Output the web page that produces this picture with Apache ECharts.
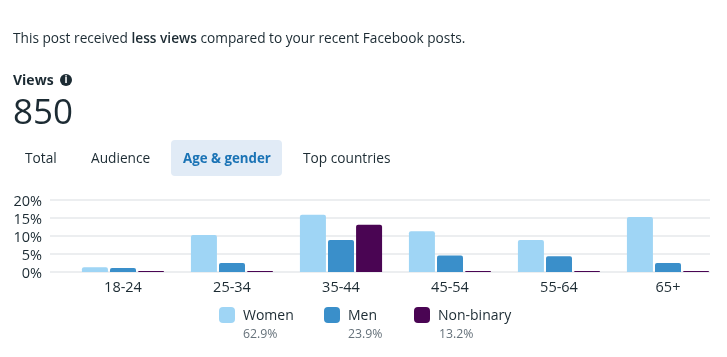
<!DOCTYPE html>
<html>
<head>
<meta charset="utf-8">
<style>
html, body { margin: 0; padding: 0; background: #fff; }
#main-canvas { width: 727px; height: 357px; }
</style>
<script src="https://cdn.jsdelivr.net/npm/echarts@6/dist/echarts.min.js"></script>
</head>
<body>
<div id="main-canvas"></div>
<script>
var ageGroups = ['18-24', '25-34', '35-44', '45-54', '55-64', '65+'];
var women = [1.3, 10.3, 15.9, 11.3, 8.9, 15.3];
var men = [1.1, 2.5, 8.9, 4.6, 4.4, 2.5];
var nonBinary = [0.2, 0.2, 13.1, 0.2, 0.2, 0.2];
var legendNames = ['Women', 'Men', 'Non-binary'];
var legendShares = ['62.9%', '23.9%', '13.2%'];
var tabNames = ['Total', 'Audience', 'Age & gender', 'Top countries'];

var colors = ['#9fd5f5', '#3a8fca', '#4a0553'];
var fontName = '"Open Sans", "Noto Sans", sans-serif';
var textColor = '#1c2b33';
var grey = '#65717a';

var myChart = echarts.init(document.getElementById('main-canvas'), null, { renderer: 'canvas' });

function makeSeries(i, values)
{
    return {
        name: legendNames[i],
        type: 'bar',
        xAxisIndex: 1,
        yAxisIndex: 1,
        data: values,
        barWidth: 26,
        barGap: '8%',
        barMinHeight: 1,
        silent: true,
        animation: false,
        itemStyle: { color: colors[i], borderRadius: [2, 2, 0, 0] }
    };
}

function makeLegend(i, left)
{
    return {
        data: [legendNames[i]],
        left: left,
        top: 307,
        padding: 0,
        itemWidth: 16,
        itemHeight: 16,
        itemGap: 0,
        icon: 'roundRect',
        selectedMode: false,
        formatter: '{a|{name}}',
        textStyle: {
            rich: {
                a: { fontFamily: fontName, fontSize: 14, color: textColor, padding: [3, 0, 0, 3] }
            }
        }
    };
}

function label(text, x, y, size, weight, color)
{
    return {
        type: 'text',
        x: x,
        y: y,
        silent: true,
        style: {
            text: text,
            fontFamily: fontName,
            fontSize: size,
            fontWeight: weight,
            fill: color,
            verticalAlign: 'middle'
        }
    };
}

var legendLefts = [219, 324, 414];
var shareX = [243, 348, 439];
var tabX = [25, 91, 183, 303];

var graphics = [
    {
        type: 'text',
        x: 13,
        y: 39,
        silent: true,
        style: {
            rich: {
                n: { fontFamily: fontName, fontSize: 13.7, fill: textColor },
                b: { fontFamily: fontName, fontSize: 13.7, fontWeight: 600, fill: textColor }
            },
            text: '{n|This post received }{b|less views}{n| compared to your recent Facebook posts.}',
            verticalAlign: 'middle'
        }
    },
    label('Views', 13, 81, 14, 700, textColor),
    { type: 'circle', shape: { cx: 66, cy: 80, r: 6 }, style: { fill: textColor }, silent: true },
    {
        type: 'text', x: 66, y: 80, silent: true,
        style: { text: 'i', fontFamily: fontName, fontSize: 10, fontWeight: 700, fill: '#fff', align: 'center', verticalAlign: 'middle' }
    },
    label('850', 13, 114, 35, 400, textColor),
    { type: 'rect', shape: { x: 171, y: 140, width: 111, height: 36, r: 4 }, style: { fill: '#e1ebf6' }, silent: true }
];

for(var i = 0; i < tabNames.length; i++)
{
    if(i == 2)
        graphics.push(label(tabNames[i], tabX[i], 159, 13.3, 700, '#1a73b5'));
    else
        graphics.push(label(tabNames[i], tabX[i], 159, 13.7, 400, textColor));
}
for(var j = 0; j < legendShares.length; j++)
{
    graphics.push(label(legendShares[j], shareX[j], 334, 12.3, 400, grey));
}

var option = {
    backgroundColor: '#fff',
    animation: false,
    textStyle: { fontFamily: fontName },
    grid: [
        { left: 50, right: 17, top: 200, height: 72 },
        { left: 68.5, width: 654, top: 200, height: 72 }
    ],
    xAxis: [
        { gridIndex: 0, type: 'category', data: ageGroups, show: false },
        {
            gridIndex: 1,
            type: 'category',
            data: ageGroups,
            axisLine: { show: false },
            axisTick: { show: false },
            axisLabel: { fontFamily: fontName, fontSize: 14.5, color: textColor, margin: 8 }
        }
    ],
    yAxis: [
        {
            gridIndex: 0,
            type: 'value',
            min: 0,
            max: 20,
            interval: 5,
            axisLine: { show: false },
            axisTick: { show: false },
            axisLabel: {
                formatter: '{a|{value}%}',
                margin: 8,
                rich: {
                    a: { fontFamily: fontName, fontSize: 14.5, color: textColor, padding: [3, 0, 0, 0] }
                }
            },
            splitLine: { show: true, lineStyle: { color: '#eceef0', width: 2 } }
        },
        { gridIndex: 1, type: 'value', min: 0, max: 20, show: false, splitLine: { show: false } }
    ],
    legend: [makeLegend(0, legendLefts[0]), makeLegend(1, legendLefts[1]), makeLegend(2, legendLefts[2])],
    series: [makeSeries(0, women), makeSeries(1, men), makeSeries(2, nonBinary)],
    graphic: { elements: graphics }
};

myChart.setOption(option);
</script>
</body>
</html>
